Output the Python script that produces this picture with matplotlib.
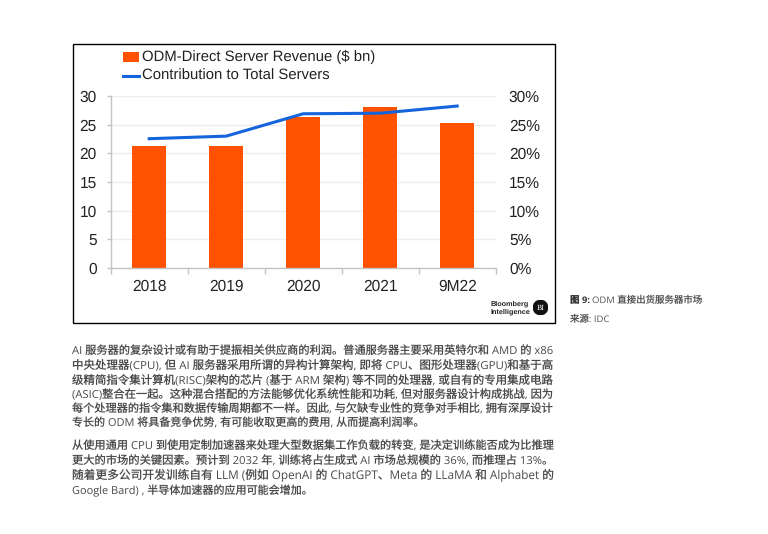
import matplotlib
matplotlib.use('Agg')
import matplotlib.pyplot as plt
from matplotlib.patches import Rectangle, Circle

plt.rcParams['text.hinting'] = 'no_hinting'

W, H = 768, 534

years = ['2018', '2019', '2020', '2021', '9M22']
revenue = [21.2, 21.2, 26.3, 28.0, 25.35]
contribution = [22.55, 23.0, 26.9, 27.0, 28.25]
left_ticks = [0, 5, 10, 15, 20, 25, 30]
right_labels = ['0%', '5%', '10%', '15%', '20%', '25%', '30%']

para1 = [
    'AI 服务器的复杂设计或有助于提振相关供应商的利润。普通服务器主要采用英特尔和 AMD 的 x86',
    '中央处理器(CPU), 但 AI 服务器采用所谓的异构计算架构, 即将 CPU、图形处理器(GPU)和基于高',
    '级精简指令集计算机(RISC)架构的芯片 (基于 ARM 架构) 等不同的处理器, 或自有的专用集成电路',
    '(ASIC)整合在一起。这种混合搭配的方法能够优化系统性能和功耗, 但对服务器设计构成挑战, 因为',
    '每个处理器的指令集和数据传输周期都不一样。因此, 与欠缺专业性的竞争对手相比, 拥有深厚设计',
    '专长的 ODM 将具备竞争优势, 有可能收取更高的费用, 从而提高利润率。',
]
para2 = [
    '从使用通用 CPU 到使用定制加速器来处理大型数据集工作负载的转变, 是决定训练能否成为比推理',
    '更大的市场的关键因素。预计到 2032 年, 训练将占生成式 AI 市场总规模的 36%, 而推理占 13%。',
    '随着更多公司开发训练自有 LLM (例如 OpenAI 的 ChatGPT、Meta 的 LLaMA 和 Alphabet 的',
    'Google Bard) , 半导体加速器的应用可能会增加。',
]

ORANGE = '#ff5200'
BLUE = '#1464dc'
GREY = '#c4c4c4'
GRID = '#ececec'
DARK = '#4a4a4a'
TEXT_FONT = ['Open Sans', 'Noto Sans CJK SC', 'DejaVu Sans']
CHART_FONT = ['Liberation Sans', 'DejaVu Sans']


def px(x, y):
    # 像素坐标转 figure 坐标
    return x / W, 1 - y / H


def body_line(line, y, justify):
    fx, fy = px(72, y)
    t = fig.text(fx, fy, line, fontsize=7.95, family=TEXT_FONT, color=DARK, va='center')
    if justify:
        # 两端对齐: 按实际宽度微调字号
        width = t.get_window_extent(fig.canvas.get_renderer()).width
        t.set_fontsize(7.95 * 481 / width)


fig = plt.figure(figsize=(W / 100, H / 100), dpi=100, facecolor='white')

# chart frame
fig.add_artist(Rectangle(px(72.5, 323.3), 482 / W, 279.6 / H, transform=fig.transFigure,
                         facecolor='none', edgecolor='black', linewidth=1.0))

ax = fig.add_axes([110.7 / W, 1 - 268 / H, 385 / W, 172 / H])
ax.patch.set_alpha(0)
x = list(range(len(years)))
ax.bar(x, revenue, width=0.435, color=ORANGE, zorder=2)
ax.set_xlim(-0.5, 4.5)
ax.set_ylim(0, 30)
ax.set_yticks(left_ticks)
ax.set_xticks([i - 0.5 for i in range(6)])
ax.set_xticklabels([])
ax.set_xticks(x, minor=True)
ax.set_xticklabels(years, minor=True, fontsize=11.2, family=CHART_FONT, color='#222222')
ax.tick_params(axis='x', which='major', length=4, color=GREY, width=1)
ax.tick_params(axis='x', which='minor', length=0, pad=8)
ax.tick_params(axis='y', length=3, color=GREY, width=1, labelsize=11.2, labelcolor='#222222', pad=7)
for label in ax.get_yticklabels():
    label.set_family(CHART_FONT)
ax.grid(axis='y', color=GRID, linewidth=1, zorder=0)
ax.set_axisbelow(True)
for side in ['top', 'right']:
    ax.spines[side].set_visible(False)
for side in ['left', 'bottom']:
    ax.spines[side].set_color(GREY)
    ax.spines[side].set_linewidth(1)

ax2 = ax.twinx()
ax2.plot(x, contribution, color=BLUE, linewidth=2.2, zorder=3)
ax2.set_ylim(0, 30)
ax2.set_yticks(left_ticks)
ax2.set_yticklabels(right_labels, fontsize=11.2, family=CHART_FONT, color='#222222')
ax2.tick_params(axis='y', length=0, pad=9.5)
for side in ax2.spines:
    ax2.spines[side].set_visible(False)

# legend
fig.add_artist(Rectangle(px(122.5, 61.5), 16.5 / W, 9.5 / H, transform=fig.transFigure,
                         facecolor=ORANGE, edgecolor='none'))
fig.add_artist(plt.Line2D([122.5 / W, 139 / W], [1 - 76 / H, 1 - 76 / H], color=BLUE, linewidth=2.2))
fx, fy = px(142, 56.5)
fig.text(fx, fy, 'ODM-Direct Server Revenue ($ bn)', fontsize=10.7, family=CHART_FONT,
         color='#222222', va='center')
fx, fy = px(142, 75.5)
fig.text(fx, fy, 'Contribution to Total Servers', fontsize=10.7, family=CHART_FONT,
         color='#222222', va='center')

# logo
fx, fy = px(490.5, 303.5)
fig.text(fx, fy, 'Bloomberg', fontsize=5.2, fontweight='bold', family=CHART_FONT, color='#222222', va='center')
fx, fy = px(490.5, 311.5)
fig.text(fx, fy, 'Intelligence', fontsize=5.2, fontweight='bold', family=CHART_FONT, color='#222222', va='center')
logo_ax = fig.add_axes([533 / W, 1 - 315 / H, 15 / W, 15 / H])
logo_ax.axis('off')
logo_ax.set_xlim(0, 1)
logo_ax.set_ylim(0, 1)
logo_ax.add_patch(Circle((0.5, 0.5), 0.48, color='#111111'))
logo_ax.text(0.5, 0.48, 'BI', color='white', fontsize=5, ha='center', va='center', family='DejaVu Serif')

# side caption
fx, fy = px(570.5, 301)
fig.text(fx, fy, '图 9:', fontsize=6.8, fontweight='bold', family=TEXT_FONT, color='#333333', va='center')
fx, fy = px(592.5, 301)
fig.text(fx, fy, 'ODM 直接出货服务器市场', fontsize=6.8, family=TEXT_FONT, color='#555555', va='center')
fx, fy = px(570.5, 320)
fig.text(fx, fy, '来源: IDC', fontsize=6.8, family=TEXT_FONT, color='#555555', va='center')

# body text
for i, line in enumerate(para1):
    body_line(line, 350.7 + i * 14.67, i < 5)
for i, line in enumerate(para2):
    body_line(line, 446.7 + i * 14.6, i < 3)

fig.savefig('out.png', dpi=100)
